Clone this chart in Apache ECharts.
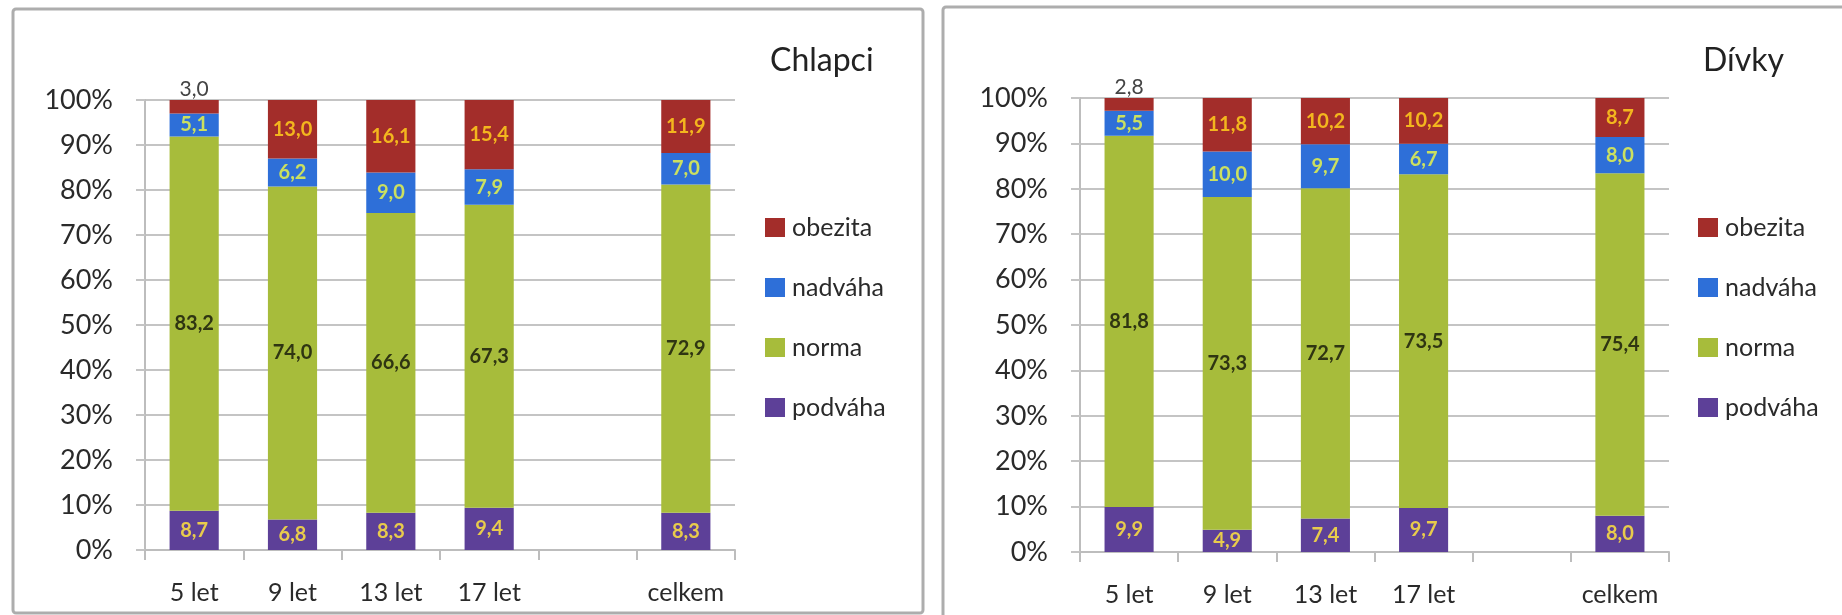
<!DOCTYPE html>
<html>
<head>
<meta charset="utf-8">
<script src="https://cdn.jsdelivr.net/npm/echarts@6/dist/echarts.min.js"></script>
<style>
  html, body { margin: 0; padding: 0; background: #fff; }
  #chart { width: 1842px; height: 615px; }
</style>
</head>
<body>
<div id="chart"></div>
<script>
// Age groups; the blank slot separates the totals column
const categories = ['5 let', '9 let', '13 let', '17 let', '', 'celkem'];
const yTicks = [0, 10, 20, 30, 40, 50, 60, 70, 80, 90, 100];

// Boys (Chlapci), percentages per weight class
const boysPodvaha = [8.7, 6.8, 8.3, 9.4, null, 8.3];
const boysNorma   = [83.2, 74.0, 66.6, 67.3, null, 72.9];
const boysNadvaha = [5.1, 6.2, 9.0, 7.9, null, 7.0];
const boysObezita = [3.0, 13.0, 16.1, 15.4, null, 11.9];

// Girls (Dívky)
const girlsPodvaha = [9.9, 4.9, 7.4, 9.7, null, 8.0];
const girlsNorma   = [81.8, 73.3, 72.7, 73.5, null, 75.4];
const girlsNadvaha = [5.5, 10.0, 9.7, 6.7, null, 8.0];
const girlsObezita = [2.8, 11.8, 10.2, 10.2, null, 8.7];

const FONT = 'Lato, "Open Sans", sans-serif';
const classes = [
  { name: 'podváha', color: '#5d4098', label: '#e8cb4c' },
  { name: 'norma',   color: '#a7bc3b', label: '#2f3512' },
  { name: 'nadváha', color: '#2e6fd8', label: '#cbe060' },
  { name: 'obezita', color: '#a32d2a', label: '#f3b61e' }
];

const fmt = v => v.toFixed(1).replace('.', ',');

function makeSeries(idx, values) {
  return values.map((arr, k) => ({
    name: classes[k].name,
    type: 'bar',
    stack: 'total' + idx,
    xAxisIndex: idx,
    yAxisIndex: idx,
    barWidth: '50%',
    itemStyle: { color: classes[k].color },
    label: {
      show: true,
      position: 'inside',
      color: classes[k].label,
      fontFamily: FONT,
      fontSize: 20,
      fontWeight: 'bold',
      formatter: p => fmt(p.value)
    },
    data: arr.map(v => {
      if (v === null) return '-';
      // very thin top segments carry their value above the bar
      if (k === 3 && v < 4) {
        return { value: v, label: { position: 'top', distance: 0, color: '#444', fontSize: 21, fontWeight: 'normal' } };
      }
      return v;
    })
  }));
}

const grids = [
  { left: 145, top: 100, width: 590, height: 450 },
  { left: 1080, top: 98, width: 589, height: 454 }
];

function xAxis(i) {
  return {
    gridIndex: i,
    type: 'category',
    data: categories,
    axisLine: { lineStyle: { color: '#bdbdbd', width: 2 } },
    axisTick: { show: true, length: 10, lineStyle: { color: '#bdbdbd', width: 2 } },
    axisLabel: { interval: 0, color: '#2a2a2a', fontFamily: FONT, fontSize: 25, margin: 30 }
  };
}

function yAxis(i) {
  return {
    gridIndex: i,
    type: 'value',
    min: yTicks[0],
    max: yTicks[yTicks.length - 1],
    interval: yTicks[1] - yTicks[0],
    axisLine: { show: true, lineStyle: { color: '#bdbdbd', width: 2 } },
    axisTick: { show: true, length: 9, lineStyle: { color: '#c4c4c4', width: 2 } },
    splitLine: { lineStyle: { color: '#c4c4c4', width: 2 } },
    axisLabel: { color: '#2a2a2a', fontFamily: FONT, fontSize: 27, margin: 32, formatter: '{value}%' }
  };
}

const legendOrder = ['obezita', 'nadváha', 'norma', 'podváha'];
function legend(left) {
  return {
    orient: 'vertical',
    left: left,
    top: 210,
    data: legendOrder,
    itemWidth: 20,
    itemHeight: 19,
    itemGap: 35,
    icon: 'rect',
    selectedMode: false,
    textStyle: { color: '#2a2a2a', fontFamily: FONT, fontSize: 25, lineHeight: 24, padding: [0, 0, 0, 2] }
  };
}

const chart = echarts.init(document.getElementById('chart'), null, { renderer: 'canvas' });
chart.setOption({
  animation: false,
  backgroundColor: '#fff',
  title: [
    { text: 'Chlapci', left: 765, top: 40, textStyle: { color: '#222', fontFamily: FONT, fontSize: 32, fontWeight: 'normal' } },
    { text: 'Dívky', left: 1698, top: 40, textStyle: { color: '#222', fontFamily: FONT, fontSize: 32, fontWeight: 'normal' } }
  ],
  legend: [legend(760), legend(1693)],
  grid: grids,
  xAxis: [xAxis(0), xAxis(1)],
  yAxis: [yAxis(0), yAxis(1)],
  graphic: [
    { type: 'rect', shape: { x: 13, y: 9, width: 910, height: 604, r: 3 }, style: { fill: 'none', stroke: '#adadad', lineWidth: 3 }, z: 100 },
    { type: 'rect', shape: { x: 943, y: 7, width: 920, height: 620, r: 3 }, style: { fill: 'none', stroke: '#adadad', lineWidth: 3 }, z: 100 }
  ],
  series: [
    ...makeSeries(0, [boysPodvaha, boysNorma, boysNadvaha, boysObezita]),
    ...makeSeries(1, [girlsPodvaha, girlsNorma, girlsNadvaha, girlsObezita])
  ]
});
</script>
</body>
</html>
